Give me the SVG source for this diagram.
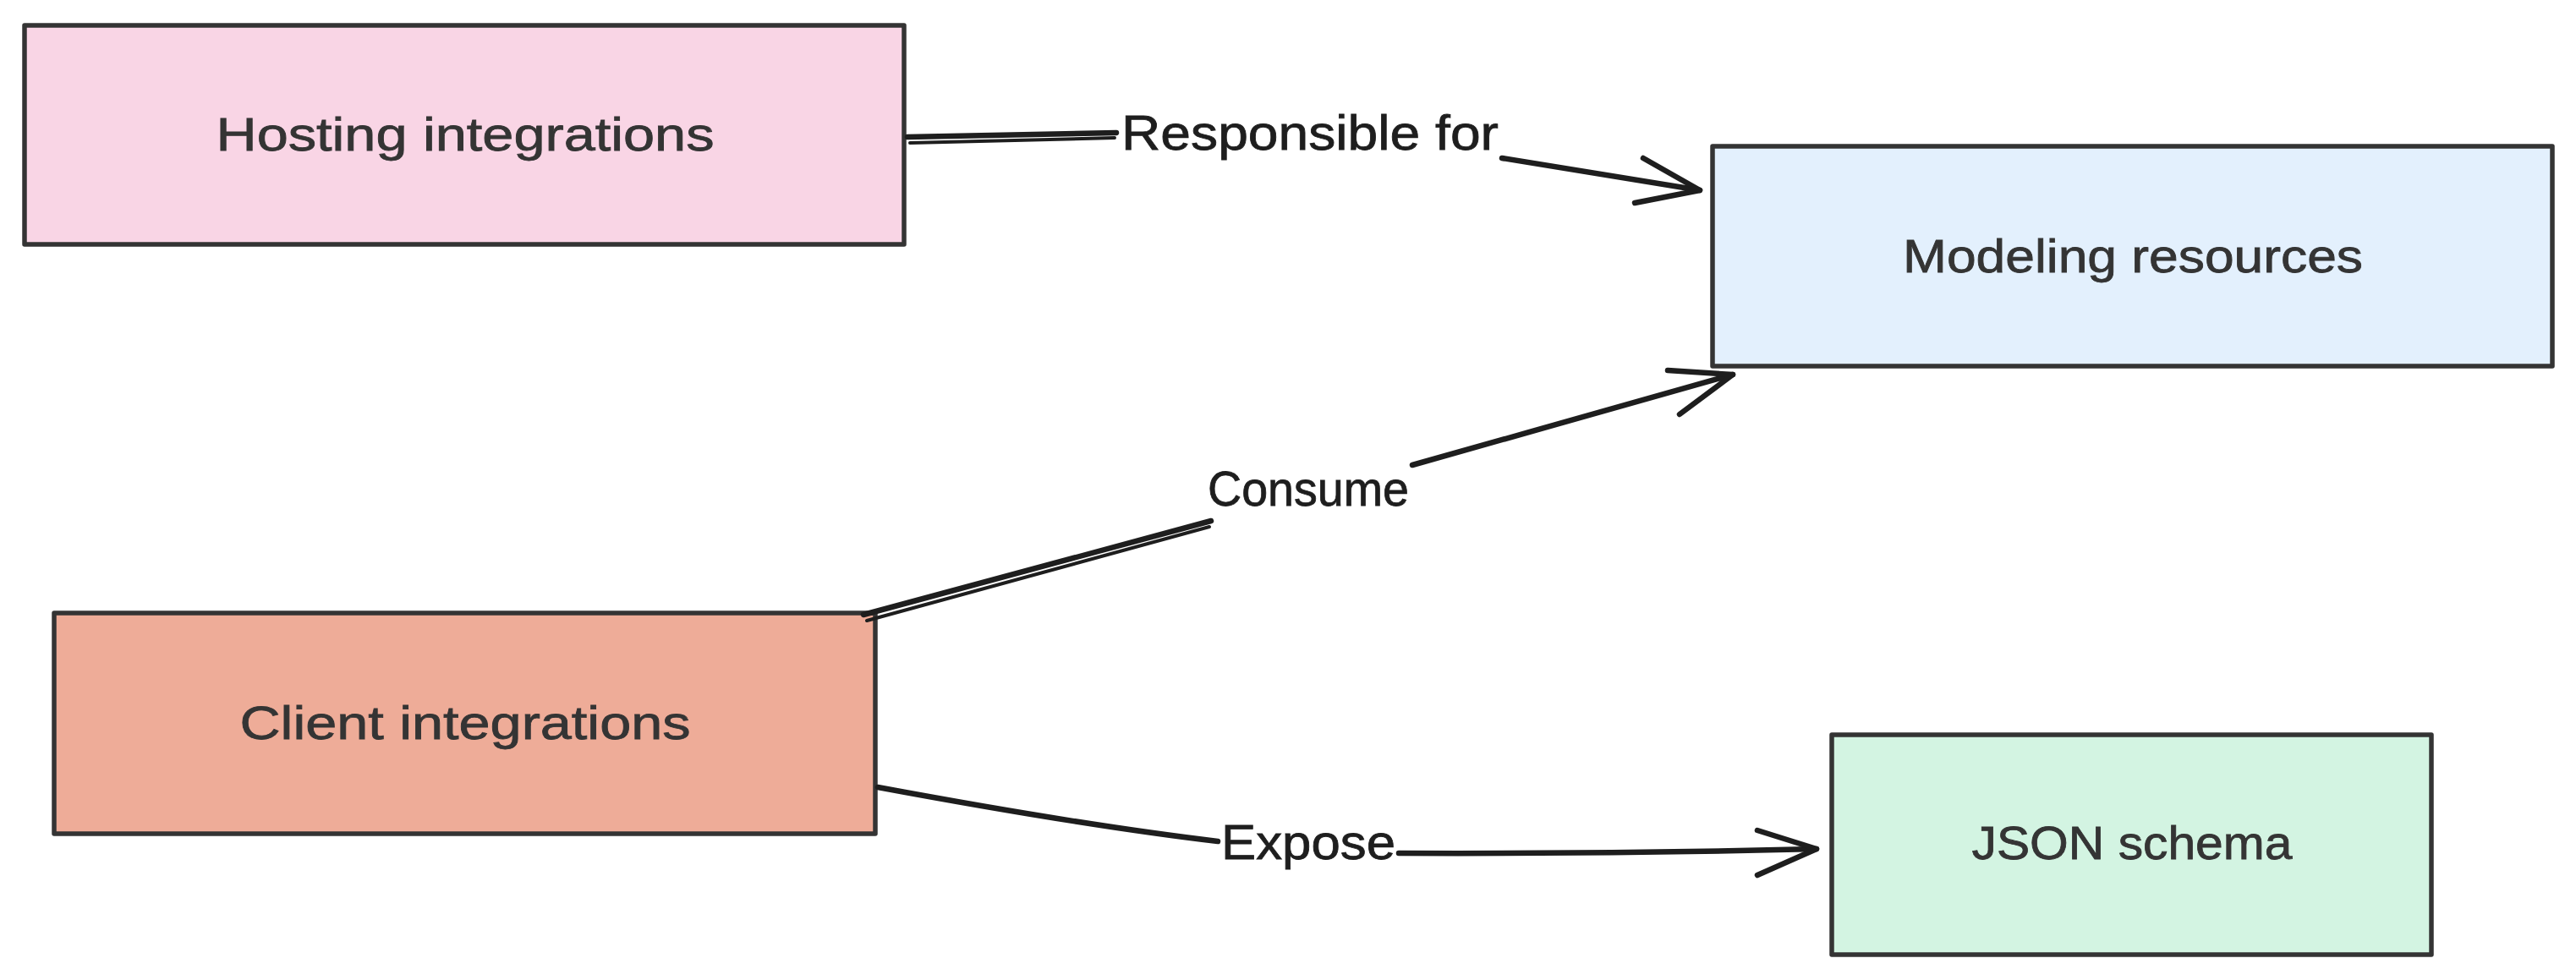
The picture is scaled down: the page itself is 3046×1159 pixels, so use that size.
<svg xmlns="http://www.w3.org/2000/svg" width="3046" height="1159" viewBox="0 0 3046 1159">
<style>
.box{stroke:#343434;stroke-width:5.5;stroke-linejoin:round}
.lbl{font-family:"Liberation Sans","Open Sans",sans-serif;font-size:56px;fill:#343434;stroke:#343434;stroke-width:0.8;text-anchor:middle}
.elbl{font-family:"Liberation Sans","Open Sans",sans-serif;font-size:58px;fill:#1e1e1e;stroke:#1e1e1e;stroke-width:0.8;text-anchor:middle}
.edge{fill:none;stroke:#1e1e1e;stroke-width:6.5;stroke-linecap:round;stroke-linejoin:round}
.thin{fill:none;stroke:#1e1e1e;stroke-width:4;stroke-linecap:round}
</style>
<rect width="3046" height="1159" fill="#ffffff"/>
<g id="node-hosting">
<rect class="box" x="29" y="30" width="1040" height="259" fill="#f9d5e5"/>
<text class="lbl" x="550" y="178" textLength="589" lengthAdjust="spacingAndGlyphs">Hosting integrations</text>
</g>
<g id="node-modeling">
<rect class="box" x="2025" y="173" width="993" height="260" fill="#e3f0fd"/>
<text class="lbl" x="2522" y="322" textLength="544" lengthAdjust="spacingAndGlyphs">Modeling resources</text>
</g>
<g id="node-client">
<rect class="box" x="64" y="725" width="971" height="261" fill="#eeac98"/>
<text class="lbl" x="550" y="874" textLength="533" lengthAdjust="spacingAndGlyphs">Client integrations</text>
</g>
<g id="node-json">
<rect class="box" x="2166" y="869" width="709" height="260" fill="#d3f4e2"/>
<text class="lbl" x="2521" y="1016" textLength="379" lengthAdjust="spacingAndGlyphs">JSON schema</text>
</g>
<g id="connectors">
<g id="edge-hosting-modeling">
<path class="edge" d="M1073 162 L1320 157"/>
<path class="thin" d="M1076 169 L1318 163"/>
<path class="edge" d="M1776 187 L2010 225"/>
<path class="edge" d="M1943 187 L2010 225 L1933 240"/>
<text class="elbl" x="1549" y="177" textLength="446" lengthAdjust="spacingAndGlyphs">Responsible for</text>
</g>
<g id="edge-client-modeling">
<path class="edge" d="M1021 727 L1432 616"/>
<path class="thin" d="M1025 734 L1430 623"/>
<path class="edge" d="M1670 550 L2049 443"/>
<path class="edge" d="M1972 438 L2049 443 L1986 490"/>
<text class="elbl" x="1547" y="598" textLength="238" lengthAdjust="spacingAndGlyphs">Consume</text>
</g>
<g id="edge-client-json">
<path class="edge" d="M1038 931 Q1280 976 1440 995"/>
<path class="edge" d="M1654 1009 Q1900 1010 2148 1004"/>
<path class="edge" d="M2078 982 L2148 1004 L2078 1035"/>
<text class="elbl" x="1547" y="1016" textLength="206" lengthAdjust="spacingAndGlyphs">Expose</text>
</g>
</g>
</svg>
